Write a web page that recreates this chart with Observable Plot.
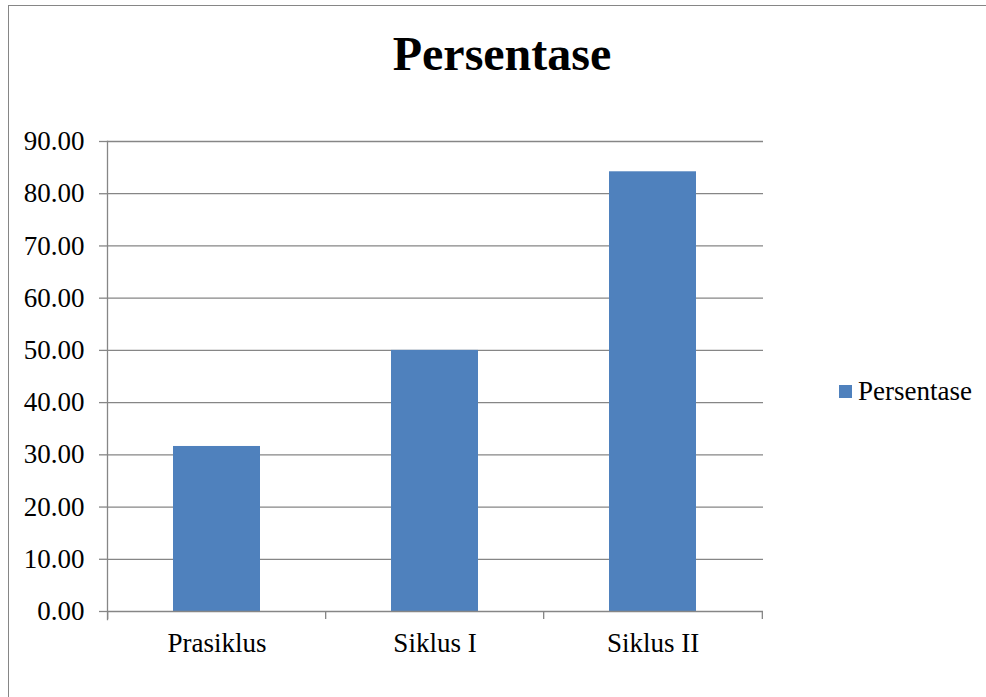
<!DOCTYPE html>
<html><head><meta charset="utf-8">
<script src="https://cdn.jsdelivr.net/npm/d3@7"></script>
<script src="https://cdn.jsdelivr.net/npm/@observablehq/plot@0.6"></script>
<style>
html,body{margin:0;padding:0;background:#fff;overflow:hidden;width:986px;height:697px}
#wrap{position:relative;width:986px;height:697px;font-family:"Liberation Serif","Times New Roman",serif;color:#000}
#frame{position:absolute;left:8px;top:5px;width:1200px;height:900px;border:1.5px solid #868686;box-sizing:border-box}
#title{position:absolute;left:9px;width:986px;top:30px;text-align:center;font-weight:bold;font-size:48px;line-height:48px;white-space:nowrap}
#chart{position:absolute;left:0;top:0}
#chart svg, #chart svg text{font-family:"Liberation Serif","Times New Roman",serif !important}
#legend{position:absolute;left:839px;top:378px;font-size:27px;line-height:27px;white-space:nowrap;display:flex;align-items:center}
#legend .sw{display:inline-block;width:13px;height:13px;margin-right:6px}
</style></head>
<body>
<div id="wrap">
  <div id="frame"></div>
  <div id="chart"></div>
  <div id="title"></div>
  <div id="legend"></div>
</div>
<script>
const titleText = "Persentase";
const seriesName = "Persentase";
const categories = ["Prasiklus", "Siklus I", "Siklus II"];
const values = [31.6, 50.0, 84.2];
const yTicks = [0, 10, 20, 30, 40, 50, 60, 70, 80, 90];
const barColor = "#4f81bd";
const gridColor = "#868686";
const serif = "Liberation Serif, Times New Roman, serif";

const data = categories.map((c, i) => ({category: c, value: values[i]}));

const W = 986, H = 697, mL = 107, mR = 223, mT = 141, mB = 86;
const step = (W - mL - mR) / categories.length;

const chart = Plot.plot({
  width: W, height: H,
  marginLeft: mL, marginRight: mR, marginTop: mT, marginBottom: mB,
  style: {fontFamily: serif, fontSize: "27px", color: "#000", background: "transparent", overflow: "visible"},
  x: {domain: categories, paddingInner: 0.6, paddingOuter: 0.3, label: null},
  y: {domain: [0, 90], ticks: yTicks, label: null},
  marks: [
    Plot.gridY(yTicks.filter(d => d > 0), {stroke: gridColor, strokeOpacity: 1, strokeWidth: 1.3}),
    Plot.barY(data, {x: "category", y: "value", fill: barColor}),
    Plot.ruleY([0], {stroke: gridColor, strokeWidth: 1.3}),
    Plot.frame({anchor: "left", stroke: gridColor, strokeWidth: 1.3, insetBottom: -8}),
    Plot.ruleX(categories, {x: d => d, y1: 0, y2: 0, insetBottom: -8, dx: -step / 2, stroke: gridColor, strokeWidth: 1.3}),
    Plot.ruleX(categories.slice(-1), {x: d => d, y1: 0, y2: 0, insetBottom: -8, dx: step / 2, stroke: gridColor, strokeWidth: 1.3}),
    Plot.axisY({ticks: yTicks, tickFormat: d => d.toFixed(2), tickSize: 8, tickPadding: 15, stroke: gridColor, strokeWidth: 1.3, fill: "#000", fontSize: 27, fontFamily: serif, label: null}),
    Plot.axisX({tickSize: 0, tickPadding: 21, fill: "#000", fontSize: 27, fontFamily: serif, label: null})
  ]
});
document.getElementById("chart").appendChild(chart);
document.getElementById("title").textContent = titleText;
const lg = document.getElementById("legend");
const sw = document.createElement("span");
sw.className = "sw"; sw.style.background = barColor;
lg.appendChild(sw);
lg.appendChild(document.createTextNode(seriesName));
</script>
</body></html>
